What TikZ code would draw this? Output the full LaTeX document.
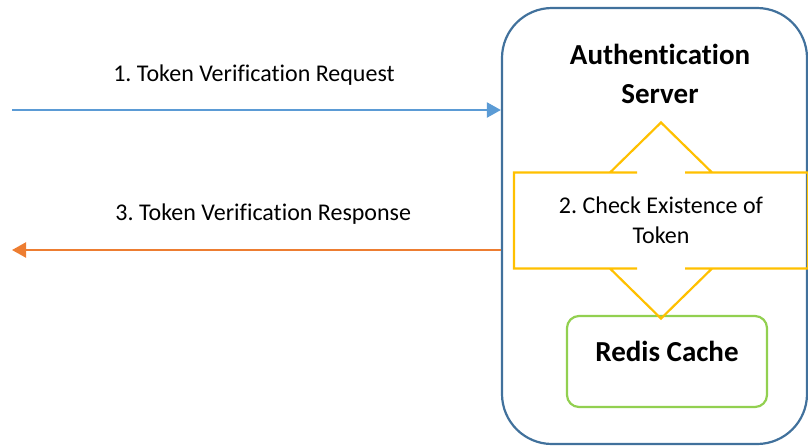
\documentclass[tikz,border=0pt]{standalone}
\usepackage{fontspec}
\setmainfont{Carlito}[Ligatures=NoCommon]
\frenchspacing
\usetikzlibrary{arrows.meta,calc,positioning}
\definecolor{serverblue}{HTML}{41719C}
\definecolor{reqblue}{HTML}{5B9BD5}
\definecolor{resporange}{HTML}{ED7D31}
\definecolor{calloutyellow}{HTML}{FFC000}
\definecolor{cachegreen}{HTML}{92D050}

\begin{document}
\begin{tikzpicture}[x=0.5pt,y=-0.5pt,
    server/.style={draw=serverblue,line width=1.1pt,rounded corners=25pt,
                   minimum width=152.5pt,minimum height=218pt},
    title/.style={align=center,font=\fontsize{14.5}{19.5}\selectfont\bfseries},
    checkbox/.style={minimum width=147pt,minimum height=48pt,outer sep=0pt,
                     align=center,font=\fontsize{12}{15}\selectfont},
    callout/.style={draw=calloutyellow,line width=1.1pt},
    cache/.style={draw=cachegreen,line width=1.1pt,rounded corners=6pt,
                  minimum width=100pt,minimum height=45.5pt,
                  font=\fontsize{14.5}{17}\selectfont\bfseries,
                  text height=10pt,text depth=10.5pt},
    msg/.style={font=\fontsize{12}{15}\selectfont},
    request/.style={draw=reqblue,line width=1.1pt,-{Triangle[length=7pt,width=7.5pt]}},
    response/.style={draw=resporange,line width=1.1pt,-{Triangle[length=7pt,width=7.5pt]}}]
 \useasboundingbox (0,0) rectangle (808,446);
 % server with its parts
 \node[server] (server) at (654.5,226) {};
 \node[title] (servertitle) at (660,74) {Authentication\\Server};
 \node[checkbox] (check) at (661,220.5) {2. Check Existence of\\Token};
 \node[cache] (redis) at (667,361.5) {Redis Cache};
 \draw[callout] (check.north west) -- ($(check.north)+(-24,0)$) -- ($(check.north)+(-51,0)$)
   -- ($(check.north)+(0,-50)$) -- ($(check.north)+(51,0)$) -- ($(check.north)+(24,0)$)
   -- (check.north east) -- (check.south east) -- ($(check.south)+(24,0)$)
   -- ($(check.south)+(51,0)$) -- ($(check.south)+(0,50)$) -- ($(check.south)+(-51,0)$)
   -- ($(check.south)+(-24,0)$) -- (check.south west) -- cycle;
 % messages
 \coordinate (reqstart) at (12,110);
 \coordinate (respend) at (12,250);
 \draw[request] (reqstart) -- (reqstart -| server.west)
   node[msg,pos=0.495,yshift=17.5pt] (reqlabel) {1. Token Verification Request};
 \draw[response] (respend -| server.west) -- (respend)
   node[msg,pos=0.486,yshift=18pt] (resplabel) {3. Token Verification Response};
\end{tikzpicture}
\end{document}
